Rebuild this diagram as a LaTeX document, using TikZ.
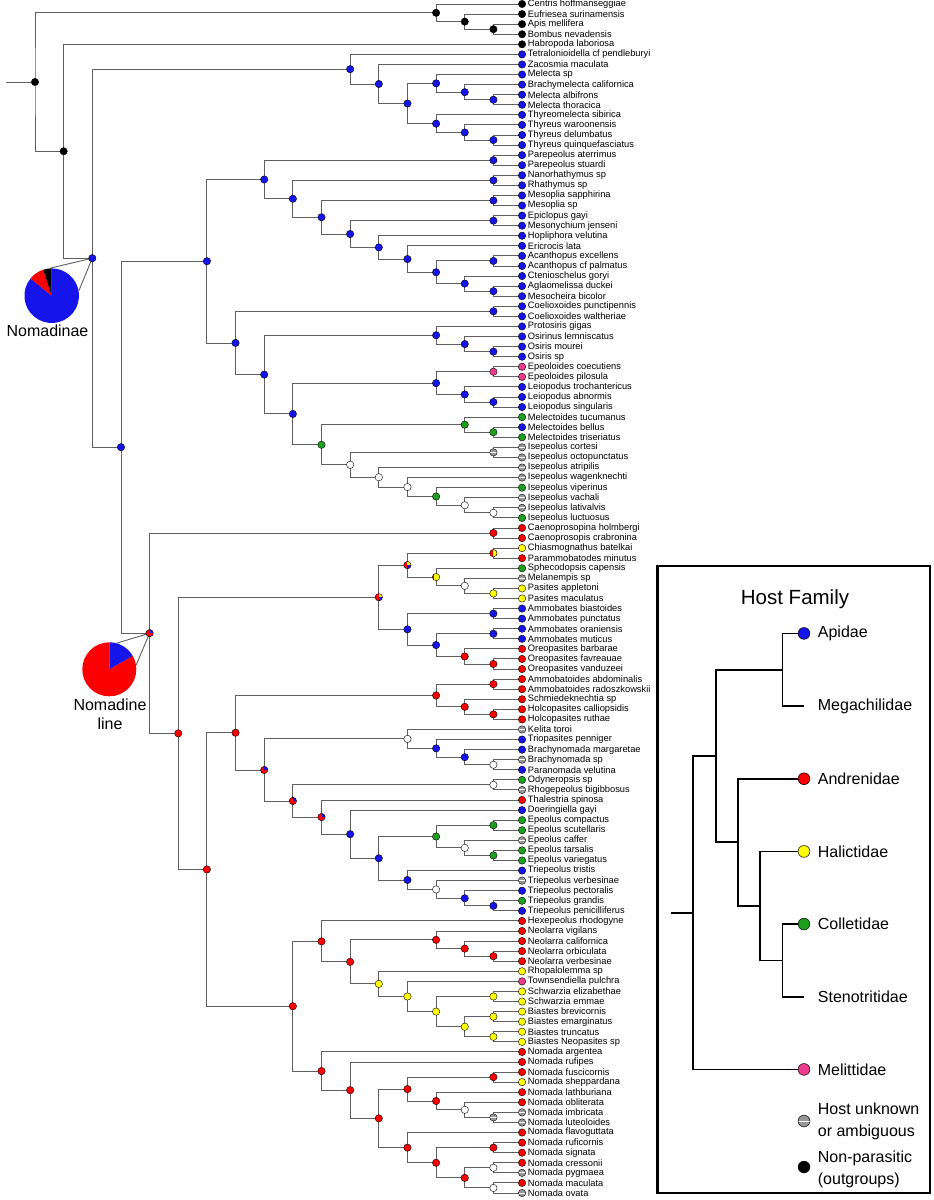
\documentclass[tikz,border=0pt]{standalone}
\usepackage{fontspec}
\setmainfont{Liberation Sans}
\usetikzlibrary{calc,backgrounds}
\definecolor{hblue}{RGB}{20,20,235}
\definecolor{hred}{RGB}{250,0,0}
\definecolor{hgreen}{RGB}{30,160,30}
\definecolor{hyellow}{RGB}{255,255,0}
\definecolor{hpink}{RGB}{235,60,140}
\definecolor{hgray}{RGB}{150,150,150}
\definecolor{branchgray}{RGB}{95,95,95}
\pgfmathdeclarefunction{lx}{1}{\pgfmathparse{6.35+28.65*#1}}
\pgfmathdeclarefunction{ty}{1}{\pgfmathparse{-4-10.076*(#1-1)}}
\tikzset{
  dot/.style={circle,draw=black,line width=0.4pt,inner sep=0pt,minimum size=7.4pt},
  hostdot/.style={circle,draw=black,line width=0.5pt,inner sep=0pt,minimum size=11.8pt},
  nodot/.style={draw=none,fill=none},
  apid/.style={fill=hblue},
  andr/.style={fill=hred},
  hali/.style={fill=hyellow},
  coll/.style={fill=hgreen},
  meli/.style={fill=hpink},
  outg/.style={fill=black},
  unres/.style={fill=white},
  unkn/.style={fill=hgray,path picture={\draw[white,line width=0.9pt] (path picture bounding box.west) -- (path picture bounding box.east);}},
  andrapid/.style={fill=hred,path picture={\fill[hblue] (path picture bounding box.center) rectangle (path picture bounding box.north east);}},
  andrhali/.style={fill=hred,path picture={\fill[hyellow] (path picture bounding box.north) rectangle (path picture bounding box.south east);}},
  halimix/.style={fill=hyellow,path picture={\fill[hred] (path picture bounding box.north west) rectangle ([xshift=2pt]path picture bounding box.south west);}},
  mix3/.style={fill=hred,path picture={\fill[hyellow] (path picture bounding box.center) rectangle (path picture bounding box.north east);
      \fill[hblue] (path picture bounding box.center) rectangle (path picture bounding box.south east);}},
  branch/.style={draw=branchgray,line width=0.9pt},
  hostline/.style={draw=black,line width=1.8pt},
  tiplabel/.style={anchor=west,inner sep=0pt,xshift=1.8pt,font=\fontsize{9.3}{10}\selectfont},
  hostlabel/.style={anchor=west,inner sep=0pt,align=left,font=\fontsize{16}{22}\selectfont},
  pielabel/.style={inner sep=0pt,align=center,font=\fontsize{16}{19}\selectfont}
}
\newcommand\joinat[6]{%
  \path let \p1=($(#3)!0.5!(#4)$) in node[#5] (#2) at ({#1*1pt},\y1) {};
  \begin{scope}[on background layer]
    \draw[#6] (#3.center) -| (#2.center) |- (#4.center);
  \end{scope}}
\newcommand\clade[5]{\pgfmathsetmacro\cx{lx(#2)}\joinat{\cx}{#1}{#3}{#4}{dot,#5}{branch}}
\newcommand\hostclade[4]{\pgfmathsetmacro\cx{671+22.3*#2}\joinat{\cx}{#1}{#3}{#4}{coordinate}{hostline}}
\begin{document}
\begin{tikzpicture}[x=1pt,y=1pt]
\useasboundingbox (0,0) rectangle (934,-1200);

\foreach \c/\nm [count=\i] in {
  outg/Centris hoffmanseggiae, outg/Eufriesea surinamensis, outg/Apis mellifera, outg/Bombus nevadensis, outg/Habropoda laboriosa,
  apid/Tetralonioidella cf pendleburyi, apid/Zacosmia maculata, apid/Melecta sp, apid/Brachymelecta californica, apid/Melecta albifrons,
  apid/Melecta thoracica, apid/Thyreomelecta sibirica, apid/Thyreus waroonensis, apid/Thyreus delumbatus, apid/Thyreus quinquefasciatus,
  apid/Parepeolus aterrimus, apid/Parepeolus stuardi, apid/Nanorhathymus sp, apid/Rhathymus sp, apid/Mesoplia sapphirina,
  apid/Mesoplia sp, apid/Epiclopus gayi, apid/Mesonychium jenseni, apid/Hopliphora velutina, apid/Ericrocis lata,
  apid/Acanthopus excellens, apid/Acanthopus cf palmatus, apid/Ctenioschelus goryi, apid/Aglaomelissa duckei, apid/Mesocheira bicolor,
  apid/Coelioxoides punctipennis, apid/Coelioxoides waltheriae, apid/Protosiris gigas, apid/Osirinus lemniscatus, apid/Osiris mourei,
  apid/Osiris sp, meli/Epeoloides coecutiens, meli/Epeoloides pilosula, apid/Leiopodus trochantericus, apid/Leiopodus abnormis,
  apid/Leiopodus singularis, coll/Melectoides tucumanus, apid/Melectoides bellus, coll/Melectoides triseriatus, unkn/Isepeolus cortesi,
  unkn/Isepeolus octopunctatus, unkn/Isepeolus atripilis, unkn/Isepeolus wagenknechti, coll/Isepeolus viperinus, unkn/Isepeolus vachali,
  unkn/Isepeolus lativalvis, coll/Isepeolus luctuosus, andr/Caenoprosopina holmbergi, andr/Caenoprosopis crabronina, hali/Chiasmognathus batelkai,
  andr/Parammobatodes minutus, coll/Sphecodopsis capensis, unkn/Melanempis sp, hali/Pasites appletoni, hali/Pasites maculatus,
  apid/Ammobates biastoides, apid/Ammobates punctatus, apid/Ammobates oraniensis, apid/Ammobates muticus, andr/Oreopasites barbarae,
  andr/Oreopasites favreauae, andr/Oreopasites vanduzeei, andr/Ammobatoides abdominalis, andr/Ammobatoides radoszkowskii, andr/Schmiedeknechtia sp,
  andr/Holcopasites calliopsidis, andr/Holcopasites ruthae, unkn/Kelita toroi, apid/Triopasites penniger, apid/Brachynomada margaretae,
  unkn/Brachynomada sp, apid/Paranomada velutina, coll/Odyneropsis sp, unkn/Rhogepeolus bigibbosus, andr/Thalestria spinosa,
  apid/Doeringiella gayi, coll/Epeolus compactus, coll/Epeolus scutellaris, unkn/Epeolus caffer, coll/Epeolus tarsalis,
  coll/Epeolus variegatus, apid/Triepeolus tristis, unkn/Triepeolus verbesinae, apid/Triepeolus pectoralis, coll/Triepeolus grandis,
  apid/Triepeolus penicilliferus, andr/Hexepeolus rhodogyne, andr/Neolarra vigilans, andr/Neolarra californica, andr/Neolarra orbiculata,
  andr/Neolarra verbesinae, hali/Rhopalolemma sp, meli/Townsendiella pulchra, hali/Schwarzia elizabethae, hali/Schwarzia emmae,
  hali/Biastes brevicornis, hali/Biastes emarginatus, hali/Biastes truncatus, hali/Biastes Neopasites sp, andr/Nomada argentea,
  andr/Nomada rufipes, andr/Nomada fuscicornis, hali/Nomada sheppardana, andr/Nomada lathburiana, andr/Nomada obliterata,
  unkn/Nomada imbricata, unkn/Nomada luteoloides, andr/Nomada flavoguttata, andr/Nomada ruficornis, andr/Nomada signata,
  andr/Nomada cressonii, unkn/Nomada pygmaea, andr/Nomada maculata, unkn/Nomada ovata}
  {\node[dot,\c] (t\i) at ({lx(18)},{ty(\i)}) {};
   \node[tiplabel] (lab\i) at (t\i.east) {\nm};
  }

\clade{api3}{17}{t3}{t4}{outg}
\clade{api2}{16}{t2}{api3}{outg}
\clade{api1}{15}{t1}{api2}{outg}

\clade{mel6}{17}{t10}{t11}{apid}
\clade{mel5}{16}{t9}{mel6}{apid}
\clade{mel4}{15}{t8}{mel5}{apid}
\clade{thy3}{17}{t14}{t15}{apid}
\clade{thy2}{16}{t13}{thy3}{apid}
\clade{thy1}{15}{t12}{thy2}{apid}
\clade{mel3}{14}{mel4}{thy1}{apid}
\clade{mel2}{13}{t7}{mel3}{apid}
\clade{mel1}{12}{t6}{mel2}{apid}

\clade{par}{17}{t16}{t17}{apid}
\clade{rha}{17}{t18}{t19}{apid}
\clade{mes}{17}{t20}{t21}{apid}
\clade{epi}{17}{t22}{t23}{apid}
\clade{aca}{17}{t26}{t27}{apid}
\clade{agl}{17}{t29}{t30}{apid}
\clade{eri7}{16}{t28}{agl}{apid}
\clade{eri6}{15}{aca}{eri7}{apid}
\clade{eri5}{14}{t25}{eri6}{apid}
\clade{eri4}{13}{t24}{eri5}{apid}
\clade{eri3}{12}{epi}{eri4}{apid}
\clade{eri2}{11}{mes}{eri3}{apid}
\clade{eri1}{10}{rha}{eri2}{apid}
\clade{rht}{9}{par}{eri1}{apid}

\clade{coe}{17}{t31}{t32}{apid}
\clade{osi3}{17}{t35}{t36}{apid}
\clade{osi2}{16}{t34}{osi3}{apid}
\clade{osi1}{15}{t33}{osi2}{apid}
\clade{epd}{17}{t37}{t38}{meli}
\clade{lei2}{17}{t40}{t41}{apid}
\clade{lei1}{16}{t39}{lei2}{apid}
\clade{epl}{15}{epd}{lei1}{apid}
\clade{mld2}{17}{t43}{t44}{coll}
\clade{mld1}{16}{t42}{mld2}{coll}
\clade{ise6}{17}{t51}{t52}{unres}
\clade{ise5}{16}{t50}{ise6}{unres}
\clade{ise4}{15}{t49}{ise5}{coll}
\clade{ise3}{14}{t48}{ise4}{unres}
\clade{ise2}{13}{t47}{ise3}{unres}
\clade{ise0}{17}{t45}{t46}{unkn}
\clade{ise1}{12}{ise0}{ise2}{unres}
\clade{isp}{11}{mld1}{ise1}{coll}
\clade{osr3}{10}{epl}{isp}{apid}
\clade{osr2}{9}{osi1}{osr3}{apid}
\clade{osr1}{8}{coe}{osr2}{apid}
\clade{ext}{7}{rht}{osr1}{apid}

\clade{cae}{17}{t53}{t54}{andr}
\clade{chi}{17}{t55}{t56}{andrhali}
\clade{pas3}{17}{t59}{t60}{hali}
\clade{pas2}{16}{t58}{pas3}{unres}
\clade{pas1}{15}{t57}{pas2}{halimix}
\clade{pas0}{14}{chi}{pas1}{mix3}
\clade{amm1}{17}{t61}{t62}{apid}
\clade{amm2}{17}{t63}{t64}{apid}
\clade{ore2}{17}{t66}{t67}{andr}
\clade{ore1}{16}{t65}{ore2}{andr}
\clade{amm4}{15}{amm2}{ore1}{apid}
\clade{amm3}{14}{amm1}{amm4}{apid}
\clade{ammo}{13}{pas0}{amm3}{mix3}

\clade{amd}{17}{t68}{t69}{andr}
\clade{hol2}{17}{t71}{t72}{andr}
\clade{hol1}{16}{t70}{hol2}{andr}
\clade{amd1}{15}{amd}{hol1}{andr}
\clade{bra3}{17}{t76}{t77}{unres}
\clade{bra2}{16}{t75}{bra3}{apid}
\clade{bra1}{15}{t74}{bra2}{apid}
\clade{bra0}{14}{t73}{bra1}{unres}
\clade{ody}{17}{t78}{t79}{unres}
\clade{epo5}{17}{t82}{t83}{coll}
\clade{epo6}{17}{t85}{t86}{coll}
\clade{epo4}{16}{t84}{epo6}{unres}
\clade{epo3}{15}{epo5}{epo4}{coll}
\clade{tri4}{17}{t90}{t91}{apid}
\clade{tri3}{16}{t89}{tri4}{apid}
\clade{tri2}{15}{t88}{tri3}{unres}
\clade{tri1}{14}{t87}{tri2}{apid}
\clade{epo2}{13}{epo3}{tri1}{apid}
\clade{epo1}{12}{t81}{epo2}{apid}
\clade{epo0}{11}{t80}{epo1}{andrapid}
\clade{epn}{10}{ody}{epo0}{andrapid}
\clade{bre}{9}{bra0}{epn}{andrapid}
\clade{amb}{8}{amd1}{bre}{andr}

\clade{neo3}{17}{t95}{t96}{andr}
\clade{neo2}{16}{t94}{neo3}{andr}
\clade{neo1}{15}{t93}{neo2}{andr}
\clade{sch}{17}{t99}{t100}{hali}
\clade{bia2}{17}{t101}{t102}{hali}
\clade{bia3}{17}{t103}{t104}{hali}
\clade{bia1}{16}{bia2}{bia3}{hali}
\clade{bia0}{15}{sch}{bia1}{hali}
\clade{tow}{14}{t98}{bia0}{hali}
\clade{rho}{13}{t97}{tow}{hali}
\clade{neb}{12}{neo1}{rho}{andr}
\clade{hex}{11}{t92}{neb}{andr}
\clade{nom4}{17}{t107}{t108}{andr}
\clade{nom7}{17}{t111}{t112}{unkn}
\clade{nom6}{16}{t110}{nom7}{unres}
\clade{nom5}{15}{t109}{nom6}{andr}
\clade{nom3}{14}{nom4}{nom5}{andr}
\clade{nom10}{17}{t114}{t115}{andr}
\clade{nom12}{17}{t116}{t117}{unres}
\clade{nom13}{17}{t118}{t119}{unres}
\clade{nom11}{16}{nom12}{nom13}{andr}
\clade{nom9}{15}{nom10}{nom11}{andr}
\clade{nom8}{14}{t113}{nom9}{andr}
\clade{nom2}{13}{nom3}{nom8}{andr}
\clade{nom1}{12}{t106}{nom2}{andr}
\clade{nom0}{11}{t105}{nom1}{andr}
\clade{nnb}{10}{hex}{nom0}{andr}
\clade{nla}{7}{amb}{nnb}{andr}
\clade{nlb}{6}{ammo}{nla}{andr}
\clade{nomline}{5}{cae}{nlb}{andrapid}
\clade{nmi}{4}{ext}{nomline}{apid}
\clade{nomadinae}{3}{mel1}{nmi}{apid}
\clade{out}{2}{t5}{nomadinae}{outg}
\clade{root}{1}{api1}{out}{outg}
\path (root.center) ++(-29,0) coordinate (rootstub);
\begin{scope}[on background layer]
  \draw[branch] (rootstub) -- (root.center);
\end{scope}

\node[circle,inner sep=0pt,minimum size=54.6pt] (pieA) at (51.7,-295.7) {};
\fill[hblue] (pieA.center) -- ++(141:27.3) arc[start angle=141,end angle=450,radius=27.3] -- cycle;
\fill[hred] (pieA.center) -- ++(108:27.3) arc[start angle=108,end angle=141,radius=27.3] -- cycle;
\fill[black] (pieA.center) -- ++(90:27.3) arc[start angle=90,end angle=108,radius=27.3] -- cycle;
\node[pielabel] (labA) at (47.5,-330.7) {Nomadinae};
\node[circle,inner sep=0pt,minimum size=54pt] (pieB) at (109.3,-669.3) {};
\fill[hred] (pieB.center) -- ++(90:27) arc[start angle=90,end angle=390,radius=27] -- cycle;
\fill[hblue] (pieB.center) -- ++(30:27) arc[start angle=30,end angle=90,radius=27] -- cycle;
\node[pielabel] (labB) at (110,-713.8) {Nomadine\\line};
\begin{scope}[on background layer]
  \draw[branch] (pieA.94) -- (nomadinae.center);
  \draw[branch] (pieA.10) -- (nomadinae.center);
  \draw[branch] (pieB.74) -- (nomline.center);
  \draw[branch] (pieB.9) -- (nomline.center);
\end{scope}

\draw[line width=2.6pt] (657.5,-566) rectangle (930,-1193);
\node[font=\fontsize{20.5}{24}\selectfont] (hosttitle) at (795,-598.7) {Host Family};
\foreach \c/\nm [count=\k] in {apid/Apidae,nodot/Megachilidae,andr/Andrenidae,hali/Halictidae,coll/Colletidae,nodot/Stenotritidae,meli/Melittidae}
  {\node[hostdot,\c] (h\k) at (804,{-633.4-72.67*(\k-1)}) {};
   \node[hostlabel] (hl\k) at (817.7,{-633.4-72.67*(\k-1)}) {\nm};
  }
\hostclade{hc}{5}{h1}{h2}
\hostclade{hf}{5}{h5}{h6}
\hostclade{he}{4}{h4}{hf}
\hostclade{hd}{3}{h3}{he}
\hostclade{hb}{2}{hc}{hd}
\hostclade{ha}{1}{hb}{h7}
\path (ha) ++(-22.3,0) coordinate (hstub);
\begin{scope}[on background layer]
  \draw[hostline] (hstub) -- (ha);
\end{scope}
\node[hostdot,unkn] (hunk) at (804,-1121) {};
\node[hostlabel] (hlunk) at (817.7,-1121) {Host unknown\\or ambiguous};
\node[hostdot,outg] (hout) at (804,-1167) {};
\node[hostlabel] (hlout) at (817.7,-1169) {Non-parasitic\\(outgroups)};
\end{tikzpicture}
\end{document}
